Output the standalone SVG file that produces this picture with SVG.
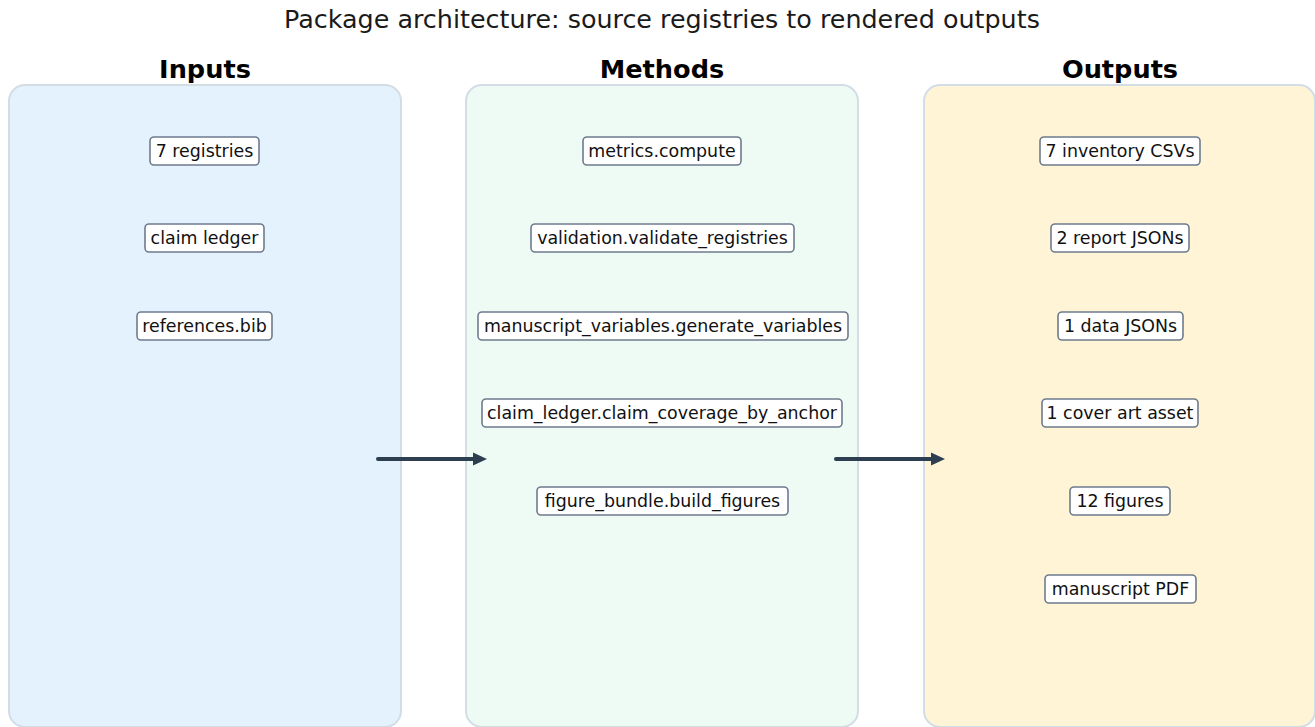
<svg xmlns="http://www.w3.org/2000/svg" width="1315" height="727" viewBox="0 0 1315 727">
<style>
.title{font-family:"DejaVu Sans",sans-serif;font-size:25.4px;fill:#1a1a1a;text-anchor:middle}
.head{font-family:"DejaVu Sans",sans-serif;font-size:25.6px;font-weight:bold;fill:#000;text-anchor:middle}
.panel{stroke:#d3dde6;stroke-width:2}
.node rect{fill:#fff;stroke:#6e7b8d;stroke-width:1.6}
.node text{font-family:"DejaVu Sans",sans-serif;font-size:17.4px;fill:#111;text-anchor:middle;dominant-baseline:central}
.conn{stroke:#2c3e50;stroke-width:4;stroke-linecap:round;fill:none}
</style>
<defs>
<marker id="ah" markerWidth="15" markerHeight="14" refX="0" refY="7" orient="auto" markerUnits="userSpaceOnUse" viewBox="0 0 15 14">
<path d="M0,0.5 L14,7 L0,13.5 Z" fill="#2c3e50"/>
</marker>
</defs>
<rect width="1315" height="727" fill="#fff"/>
<text class="title" x="662" y="28">Package architecture: source registries to rendered outputs</text>

<g id="panel-inputs">
<rect class="panel" x="9" y="85" width="392" height="642" rx="16" fill="#e4f2fd"/>
<text class="head" x="205" y="78">Inputs</text>
</g>
<g id="panel-methods">
<rect class="panel" x="466" y="85" width="392" height="642" rx="16" fill="#edfbf4"/>
<text class="head" x="662" y="78">Methods</text>
</g>
<g id="panel-outputs">
<rect class="panel" x="924" y="85" width="391" height="642" rx="16" fill="#fff4d6"/>
<text class="head" x="1120" y="78">Outputs</text>
</g>

<g id="in1" class="node"><rect x="150" y="137" width="109" height="28" rx="4"/><text x="204.5" y="151">7 registries</text></g>
<g id="in2" class="node"><rect x="145" y="224" width="119" height="28" rx="4"/><text x="204.5" y="238">claim ledger</text></g>
<g id="in3" class="node"><rect x="137" y="312" width="135" height="28" rx="4"/><text x="204.5" y="326">references.bib</text></g>

<g id="m1" class="node"><rect x="583" y="137" width="158" height="28" rx="4"/><text x="662" y="151">metrics.compute</text></g>
<g id="m2" class="node"><rect x="531" y="224" width="263" height="28" rx="4"/><text x="662.5" y="238">validation.validate_registries</text></g>
<g id="m3" class="node"><rect x="478" y="312" width="370" height="28" rx="4"/><text x="663" y="326">manuscript_variables.generate_variables</text></g>
<g id="m4" class="node"><rect x="482" y="399" width="360" height="28" rx="4"/><text x="662" y="413">claim_ledger.claim_coverage_by_anchor</text></g>
<g id="m5" class="node"><rect x="537" y="487" width="251" height="28" rx="4"/><text x="662.5" y="501">figure_bundle.build_figures</text></g>

<g id="o1" class="node"><rect x="1040" y="137" width="160" height="28" rx="4"/><text x="1120" y="151">7 inventory CSVs</text></g>
<g id="o2" class="node"><rect x="1051" y="224" width="138" height="28" rx="4"/><text x="1120" y="238">2 report JSONs</text></g>
<g id="o3" class="node"><rect x="1058" y="312" width="125" height="28" rx="4"/><text x="1120.5" y="326">1 data JSONs</text></g>
<g id="o4" class="node"><rect x="1042" y="399" width="156" height="28" rx="4"/><text x="1120" y="413">1 cover art asset</text></g>
<g id="o5" class="node"><rect x="1070" y="487" width="100" height="28" rx="4"/><text x="1120" y="501">12 figures</text></g>
<g id="o6" class="node"><rect x="1045" y="575" width="151" height="28" rx="4"/><text x="1120.5" y="589">manuscript PDF</text></g>

<g id="connectors">
<line class="conn" x1="378" y1="459" x2="473" y2="459" marker-end="url(#ah)"/>
<line class="conn" x1="836" y1="459" x2="931" y2="459" marker-end="url(#ah)"/>
</g>
</svg>
